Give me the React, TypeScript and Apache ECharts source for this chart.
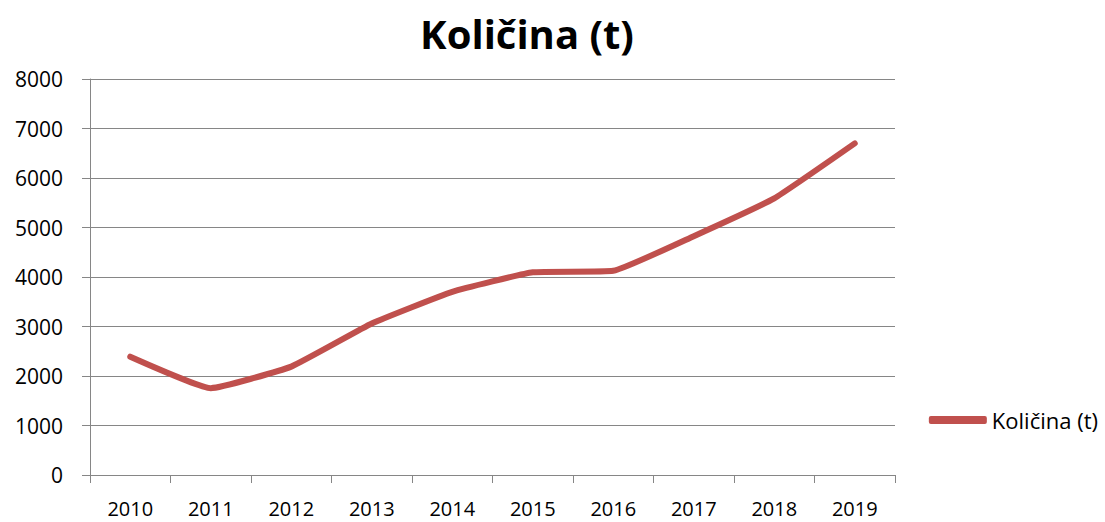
import React, { useEffect, useRef } from "react";
import * as echarts from "echarts";

const years = ["2010", "2011", "2012", "2013", "2014", "2015", "2016", "2017", "2018", "2019"];
const kolicina = [2390, 1755, 2190, 3060, 3700, 4095, 4125, 4825, 5590, 6700];
const seriesName = "Količina (t)";
const titleText = "Količina (t)";

const FONT = "'Open Sans', sans-serif";

export default function App() {
  const ref = useRef<HTMLDivElement>(null);
  useEffect(() => {
    if (!ref.current) return;
    const chart = echarts.init(ref.current, undefined, { renderer: "svg" });
    chart.setOption({
      animation: false,
      backgroundColor: "#ffffff",
      title: {
        text: titleText,
        left: 522,
        textAlign: "center",
        top: 8,
        textStyle: { fontFamily: FONT, fontWeight: "bold", fontSize: 40, color: "#000000" },
      },
      legend: {
        right: 2,
        top: 404,
        orient: "vertical",
        icon: "roundRect",
        itemWidth: 58,
        itemHeight: 8,
        itemGap: 0,
        textStyle: { fontFamily: FONT, fontSize: 22, color: "#000000" },
        data: [seriesName],
      },
      grid: { left: 90, right: 210, top: 79, bottom: 47, containLabel: false },
      xAxis: {
        type: "category",
        data: years,
        boundaryGap: true,
        axisLine: { lineStyle: { color: "#868686", width: 1 } },
        axisTick: { show: true, length: 8, lineStyle: { color: "#868686" } },
        axisLabel: { fontFamily: FONT, fontSize: 20, lineHeight: 20, color: "#000000", margin: 23 },
        splitLine: { show: false },
      },
      yAxis: {
        type: "value",
        min: 0,
        max: 8000,
        interval: 1000,
        axisLine: { show: true, lineStyle: { color: "#868686", width: 1 } },
        axisTick: { show: true, length: 8, lineStyle: { color: "#868686" } },
        axisLabel: {
          fontFamily: FONT,
          fontSize: 21,
          color: "#000000",
          margin: 27,
          formatter: (v: number) => String(v),
        },
        splitLine: { show: true, lineStyle: { color: "#868686", width: 1 } },
      },
      series: [
        {
          name: seriesName,
          type: "line",
          data: kolicina,
          smooth: 0.12,
          showSymbol: false,
          symbol: "none",
          lineStyle: { color: "#C0504D", width: 6, cap: "round", join: "round" },
          itemStyle: { color: "#C0504D" },
        },
      ],
    });
    return () => chart.dispose();
  }, []);
  return <div ref={ref} style={{ position: "fixed", left: 0, top: 0, width: 1105, height: 522 }} />;
}
